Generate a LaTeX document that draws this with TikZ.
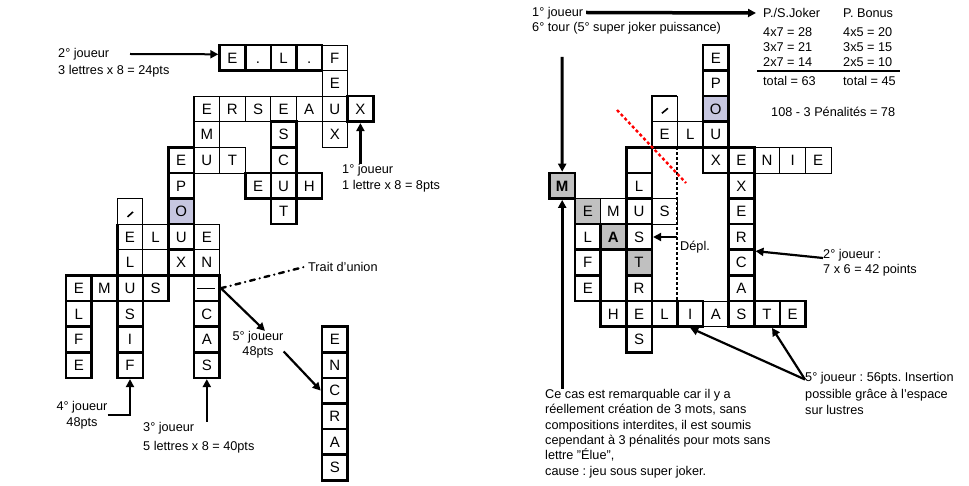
\documentclass[tikz,border=0pt]{standalone}
\usepackage{fontspec}
\setmainfont{Liberation Sans}
\usetikzlibrary{arrows.meta}
\frenchspacing

\definecolor{lavfill}{RGB}{198,198,224}
\definecolor{grayfill}{RGB}{192,192,192}
\newcommand\cellfont{\fontsize{15}{15}\selectfont}
\newcommand\lblsize[1]{\fontsize{12.7}{#1}\selectfont}

\begin{document}
\begin{tikzpicture}[
  x=1pt, y=-1pt,
  cell/.style={draw, line width=0.8pt, minimum size=25.6pt, inner sep=0pt,
               text height=10.7pt, text depth=0pt, font=\cellfont},
  tcell/.style={cell, line width=2.6pt},
  lbl/.style={inner sep=0pt, align=left, anchor=west, font=\lblsize{15}},
  clbl/.style={inner sep=0pt, align=center},
  arr/.style={-{Triangle[length=8pt,width=8pt]}, line width=2.2pt},
  thk/.style={line width=2.6pt},
]
\useasboundingbox (0,0) rectangle (969,486);

% ---------------- Left board ----------------
\begin{scope}[shift={(194pt,-45pt)}, x=25.6pt, y=-25.6pt]
  \foreach \c/\r/\t in {5/0/F, 5/1/E, 0/2/E, 1/2/R, 2/2/S, 3/2/E, 4/2/A, 5/2/U,
                        0/3/M, 5/3/X, 0/4/U, 1/4/T, -3/6/{}, -3/7/E, -2/7/L,
                        0/7/E, -3/8/L, 0/8/N}
    \node[cell] (l\c-\r) at (\c+.5,\r+.5) {\t};
  \foreach \c/\r/\t in {1/0/E, 2/0/., 3/0/L, 4/0/., 6/2/X, 3/3/S, 3/4/C, -1/4/E,
                        -1/5/P, 2/5/E, 3/5/U, 4/5/H, 3/6/T, -1/7/U, -1/8/X,
                        -5/9/E, -4/9/M, -3/9/U, -2/9/S, 0/9/{},
                        -5/10/L, -3/10/S, 0/10/C, -5/11/F, -3/11/I, 0/11/A,
                        -5/12/E, -3/12/F, 0/12/S,
                        5/11/E, 5/12/N, 5/13/C, 5/14/R, 5/15/A, 5/16/S}
    \node[tcell] (l\c-\r) at (\c+.5,\r+.5) {\t};
  \node[tcell, fill=lavfill] (l-1-6) at (-0.5,6.5) {O};
  \draw[thk] (0,2) -- (0,4);
  \draw[thk] (-3,7) -- (-3,9);
\end{scope}
\draw[line width=1.6pt] ([shift={(-2.5pt,-5.5pt)}]l-3-6.center) -- ([shift={(3pt,-0.5pt)}]l-3-6.center);
\draw[line width=1.2pt] ([xshift=-10pt]l0-9.center) -- ([xshift=8pt]l0-9.center);

% ---------------- Left labels ----------------
\node[lbl, font=\lblsize{17}] (j2) at (58,62.5) {2° joueur\\3 lettres x 8 = 24pts};
\coordinate (s2) at (130,54);
\draw[arr, line width=2pt] (s2) -- ([yshift=3.5pt]l1-0.west);

\node[lbl, font=\lblsize{16}] (j1) at (342,178) {1° joueur\\1 lettre x 8 = 8pts};
\draw[arr] (l6-2.south |- j1.north) -- (l6-2.south);

\node[lbl] (tu) at (308,267) {Trait d'union};
\draw[line width=2.4pt, line cap=round, dash pattern=on 5pt off 5pt on 0pt off 5pt]
  (l0-9.east) -- ([xshift=-4pt]tu.west);

\node[clbl, font=\lblsize{15}] (j5) at (258,344.5) {5° joueur\\48pts};
\draw[arr] (l0-9.east) -- ([xshift=7pt]j5.north);
\draw[arr] ([yshift=-7pt]j5.east) -- (l5-13.west);

\node[clbl, font=\lblsize{16}] (j4) at (82,415) {4° joueur\\48pts};
\draw[arr] (j4.east) -| (l-3-12.south);

\node[lbl, font=\lblsize{19}] (j3) at (143,437.5) {3° joueur\\5 lettres x 8 = 40pts};
\draw[arr] (l0-12.south |- j3.north) -- (l0-12.south);

% ---------------- Right board ----------------
\begin{scope}[shift={(703pt,-45pt)}, x=25.6pt, y=-25.6pt]
  \foreach \c/\r/\t in {-2/2/{}, -2/3/E, -1/3/L, 2/4/N, 3/4/I, 4/4/E,
                        -4/6/M, -2/6/S, 0/10/A}
    \node[cell] (r\c-\r) at (\c+.5,\r+.5) {\t};
  \node[cell, fill=grayfill] (r-5-6) at (-4.5,6.5) {E};
  \foreach \c/\r/\t in {0/0/E, 0/1/P, 0/3/U, 0/4/X, 1/4/E, 1/5/X, 1/6/E, 1/7/R,
                        1/8/C, 1/9/A, 1/10/S, -3/4/{}, -3/5/L, -3/6/U, -3/7/S,
                        -3/9/R, -3/10/E, -3/11/S, -5/7/L, -5/8/F, -5/9/E,
                        -4/10/H, -2/10/L, -1/10/I, 2/10/T, 3/10/E}
    \node[tcell] (r\c-\r) at (\c+.5,\r+.5) {\t};
  \node[tcell, fill=lavfill] (r0-2) at (0.5,2.5) {O};
  \node[tcell, fill=grayfill] (r-3-8) at (-2.5,8.5) {T};
  \node[tcell, fill=grayfill, font=\cellfont\bfseries] (r-4-7) at (-3.5,7.5) {A};
  \node[tcell, fill=grayfill, font=\cellfont\bfseries] (r-6-5) at (-5.5,5.5) {M};
  \draw[thk] (-3,4) -- (0,4);
  \draw[thk] (-2,4) -- (-2,2) -- (-1,2);
  \draw[thk] (-5,6) -- (-5,7);
  \coordinate (dtop) at (-1,4);
  \coordinate (dbot) at (-1,10);
\end{scope}
\draw[line width=1.6pt] ([shift={(-2.7pt,-4.3pt)}]r-2-2.center) -- ([shift={(3.3pt,0.7pt)}]r-2-2.center);
\draw[line width=2pt, dash pattern=on 3pt off 2pt] (dtop) -- (dbot);
\draw[red, line width=2.4pt, dash pattern=on 3pt off 2.5pt] (617,110) -- (686,183);

% ---------------- Right labels ----------------
\node[lbl] (r1) at (532,20.5) {1° joueur\\6° tour (5° super joker puissance)};
\node[lbl] (pj) at (763,13) {P./S.Joker};
\node[lbl] (pb) at (843,13) {P. Bonus};
\coordinate (s1) at (586,12.5);
\draw[arr, line width=3.5pt] (s1) -- ([xshift=-7pt]pj.west);

\foreach \a/\b/\y [count=\i] in {4x7 = 28/4x5 = 20/32, 3x7 = 21/3x5 = 15/47,
                                  2x7 = 14/2x5 = 10/62, total = 63/total = 45/81} {
  \node[lbl] (tj\i) at (763,\y) {\a};
  \node[lbl] (tb\i) at (843,\y) {\b};
}
\draw[line width=2pt] (757,71) -- (900,71);
\node[lbl] (pen) at (771,112) {108 - 3 Pénalités = 78};

\coordinate (mtop) at (562.2,57);
\draw[arr, line width=3pt] (mtop) -- (r-6-5.north);

\node[lbl] (dep) at (680,247) {Dépl.};
\draw[arr, line width=2pt] (r-3-7.east -| dtop) -- (r-3-7.east);

\node[lbl] (r2) at (823,262.5) {2° joueur :\\7 x 6 = 42 points};
\draw[arr] ([yshift=4.5pt]r2.west) -- (r1-7.south east);

\node[lbl, font=\lblsize{16.5}] (r5) at (805,393.5) {5° joueur : 56pts. Insertion\\possible grâce à l'espace\\sur lustres};
\draw[arr] ([yshift=14pt]r5.west) -- (r-1-10.south);
\draw[arr] ([yshift=14pt]r5.west) -- ([xshift=5pt]r2-10.south);

\node[lbl, font=\lblsize{15.4}] (note) at (545,433.5) {Ce cas est remarquable car il y a\\réellement création de 3 mots, sans\\compositions interdites, il est soumis\\cependant à 3 pénalités pour mots sans\\lettre "Élue",\\cause : jeu sous super joker.};
\draw[arr, line width=3pt] (r-6-5.south |- note.north) -- (r-6-5.south);

\end{tikzpicture}
\end{document}
